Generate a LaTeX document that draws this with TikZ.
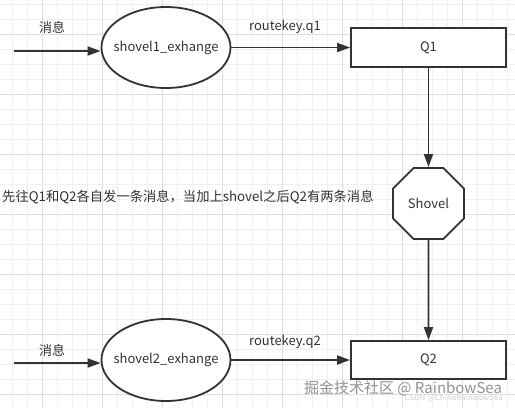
\documentclass[tikz,border=0pt]{standalone}
\usepackage{fontspec}
\setmainfont{Noto Sans CJK SC}
\usetikzlibrary{arrows.meta,shapes.geometric}
\definecolor{inkgray}{RGB}{51,51,51}
\definecolor{gridminor}{RGB}{240,240,240}
\definecolor{gridmajor}{RGB}{222,222,222}
\tikzset{
  shapeline/.style={draw=inkgray,line width=1.8pt,fill=white,text=inkgray,font=\fontsize{13}{15}\selectfont},
  exbox/.style={shapeline,ellipse,minimum width=129pt,inner sep=0pt,
    label={[text=inkgray,font=\fontsize{13}{15}\selectfont]center:#1}},
  flowarrow/.style={draw=inkgray,line width=1.8pt,-{Triangle[length=13pt,width=9pt]}},
  lbl/.style={text=inkgray,font=\fontsize{13}{15}\selectfont,inner sep=0pt}
}
\begin{document}
\begin{tikzpicture}[x=1pt,y=1pt,yscale=-1,xscale=1]
\useasboundingbox (0,0) rectangle (515,408);
\fill[white] (0,0) rectangle (515,408);

% grid
\foreach \gx in {12,27,...,507} \draw[gridminor,line width=0.8pt] (\gx,0) -- (\gx,408);
\foreach \gy in {4,19,...,404} \draw[gridminor,line width=0.8pt] (0,\gy) -- (515,\gy);
\foreach \gx in {42,102,...,507} \draw[gridmajor,line width=0.8pt] (\gx,0) -- (\gx,408);
\foreach \gy in {34,94,...,404} \draw[gridmajor,line width=0.8pt] (0,\gy) -- (515,\gy);

% shapes
\node[exbox={shovel1\_exhange},minimum height=81pt] (ex1) at (166,47.5) {};
\node[shapeline,rectangle,minimum width=155pt,minimum height=39pt,inner sep=0pt] (q1) at (428.5,47.5) {Q1};
\node[shapeline,regular polygon,regular polygon sides=8,minimum size=77pt,inner sep=0pt] (shovel) at (428.5,203.5) {Shovel};
\node[shapeline,rectangle,minimum width=155pt,minimum height=38pt,inner sep=0pt] (q2) at (428.5,360) {Q2};
\node[exbox={shovel2\_exhange},minimum height=82pt] (ex2) at (166,360) {};

\coordinate (in1) at (14,51);
\coordinate (in2) at (14,363);

% connectors
\draw[flowarrow] (in1) -- (in1 -| ex1.west);
\draw[flowarrow] (ex1) -- (q1);
\draw[flowarrow] (q1) -- (shovel);
\draw[flowarrow] (shovel) -- (q2);
\draw[flowarrow] (in2) -- (in2 -| ex2.west);
\draw[flowarrow] (ex2) -- (q2);

% labels
\node[lbl] (msg1) at (52,27) {消息};
\node[lbl] (rk1) at (285,27) {routekey.q1};
\node[lbl] (msg2) at (52,350) {消息};
\node[lbl] (rk2) at (285,342) {routekey.q2};
\node[lbl,anchor=west,font=\fontsize{13.3}{15}\selectfont] (note) at (2,197) {先往Q1和Q2各自发一条消息，当加上shovel之后Q2有两条消息};

\node[text=gray!85,font=\fontsize{15}{17}\selectfont,inner sep=0pt] (wm) at (403,388) {掘金技术社区 @ RainbowSea};
\node[text=gray!35,font=\fontsize{8}{9}\selectfont,inner sep=0pt,anchor=east] (wm2) at (503,398) {CSDN @ChinaRainbowSea};

\end{tikzpicture}
\end{document}
